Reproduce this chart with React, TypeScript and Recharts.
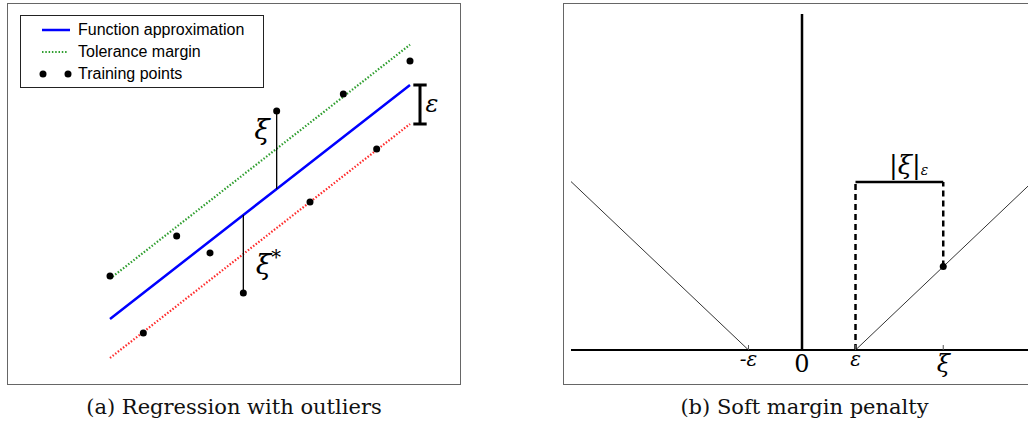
import React from 'react'
import {
  ComposedChart,
  LineChart,
  Line,
  XAxis,
  YAxis,
  ReferenceLine,
  ReferenceDot,
} from 'recharts'

// (a) regression with outliers
const sampleX = [0, 1, 2, 3, 4, 5, 6, 7, 8, 9]
const fitLine = [0, 1, 2, 3, 4, 5, 6, 7, 8, 9]
const upperMargin = [1.55, 2.55, 3.55, 4.55, 5.55, 6.55, 7.55, 8.55, 9.55, 10.55]
const lowerMargin = [-1.5, -0.5, 0.5, 1.5, 2.5, 3.5, 4.5, 5.5, 6.5, 7.5]
const trainingPoints = [1.65, -0.54, 3.19, 2.54, 1.0, 8.0, 4.5, 8.65, 6.54, 9.92]

const legendLabels = ['Function approximation', 'Tolerance margin', 'Training points']

// (b) soft margin penalty
const lossX = [-4.32, -1, 1, 4.6]
const lossY = [3.15, 0, 0, 3.42]
const tickValues = [-1, 0, 1, 2.64]
const tickLabels = ['-ε', '0', 'ε', 'ξ']
const xiValue = 2.64
const xiLoss = 1.56
const bracketTop = 3.14
const axisTop = 6.28

const captions = ['(a) Regression with outliers', '(b) Soft margin penalty']

const regData = sampleX.map((x, i) => ({
  x,
  fit: fitLine[i],
  upper: upperMargin[i],
  lower: lowerMargin[i],
  pt: trainingPoints[i],
}))

const lossData = lossX.map((x, i) => ({ x, loss: lossY[i] }))

const SERIF = '"DejaVu Serif", "Liberation Serif", serif'
const SANS = '"Liberation Sans", Arial, sans-serif'

const mathLabel =
  (text: string, size: number, sup?: string) =>
  (props: any) => {
    const vb = props.viewBox || {}
    const cx = (vb.x ?? 0) + (vb.width ?? 0) / 2
    const cy = (vb.y ?? 0) + (vb.height ?? 0) / 2
    return (
      <text
        x={cx}
        y={cy}
        textAnchor="middle"
        dominantBaseline="central"
        fontFamily={SERIF}
        fontStyle="italic"
        fontSize={size}
        fill="#000"
      >
        {text}
        {sup && (
          <tspan dy={-8} fontSize={size * 0.7} fontStyle="normal">
            {sup}
          </tspan>
        )}
      </text>
    )
  }

const absXiLabel = (props: any) => {
  const vb = props.viewBox || {}
  const cx = vb.x ?? 0
  const cy = vb.y ?? 0
  return (
    <text x={cx - 20} y={cy + 9} fontFamily={SERIF} fontSize={26} fill="#000">
      |<tspan fontStyle="italic">ξ</tspan>|
      <tspan fontSize={14} fontStyle="italic" dy={1}>
        ε
      </tspan>
    </text>
  )
}

const PenaltyTick = (props: any) => {
  const { x, y, payload } = props
  const idx = tickValues.indexOf(payload.value)
  const label = tickLabels[idx] ?? ''
  const size = idx === 1 ? 24 : idx === 3 ? 24 : 20
  const dy = idx === 1 ? 22 : idx === 3 ? 22 : 16
  return (
    <g>
      {idx !== 1 && <line x1={x} x2={x} y1={y - 5} y2={y} stroke="#555" strokeWidth={1} />}
      <text
        x={x}
        y={y + dy}
        textAnchor="middle"
        fontFamily={SERIF}
        fontStyle={idx === 1 ? 'normal' : 'italic'}
        fontSize={size}
        fill="#000"
      >
        {label}
      </text>
    </g>
  )
}

function LegendBox() {
  return (
    <div
      style={{
        position: 'absolute',
        left: 12,
        top: 11,
        width: 244,
        height: 73,
        boxSizing: 'border-box',
        border: '1px solid #222',
        background: '#fff',
        fontFamily: SANS,
        fontSize: 16,
        color: '#000',
      }}
    >
      {legendLabels.map((l, i) => (
        <div
          key={l}
          style={{ position: 'absolute', left: 0, top: 3 + i * 22, height: 22, display: 'flex', alignItems: 'center' }}
        >
          <svg width={56} height={22}>
            {i === 0 && <line x1={21} x2={49} y1={11} y2={11} stroke="#0000ff" strokeWidth={2.5} />}
            {i === 1 && (
              <line x1={21} x2={47} y1={11} y2={11} stroke="#2f9e2f" strokeWidth={2.2} strokeDasharray="1.5 1.8" />
            )}
            {i === 2 && (
              <>
                <circle cx={22} cy={11} r={3.5} fill="#000" />
                <circle cx={47} cy={11} r={3.5} fill="#000" />
              </>
            )}
          </svg>
          <span style={{ marginLeft: 1 }}>{l}</span>
        </div>
      ))}
    </div>
  )
}

export default function App() {
  return (
    <div
      style={{
        position: 'absolute',
        left: 0,
        top: 0,
        width: 1028,
        height: 430,
        overflow: 'hidden',
        background: '#fff',
      }}
    >
      {/* panel (a) */}
      <div
        style={{
          position: 'absolute',
          left: 7,
          top: 3,
          width: 454,
          height: 382,
          boxSizing: 'border-box',
          border: '1px solid #666',
        }}
      >
        <ComposedChart width={452} height={380} data={regData} margin={{ top: 0, right: 0, bottom: 0, left: 0 }}>
          <XAxis type="number" dataKey="x" hide domain={[-3.06, 10.5]} allowDataOverflow />
          <YAxis type="number" hide domain={[-2.5, 12.115]} allowDataOverflow />
          <Line dataKey="upper" stroke="#2f9e2f" strokeWidth={2.2} strokeDasharray="1.5 1.8" dot={false} isAnimationActive={false} />
          <Line dataKey="lower" stroke="#ff2a2a" strokeWidth={2.2} strokeDasharray="1.5 1.8" dot={false} isAnimationActive={false} />
          <Line dataKey="fit" stroke="#0000ff" strokeWidth={2.5} dot={false} isAnimationActive={false} />
          <ReferenceLine
            segment={[{ x: 5, y: fitLine[5] }, { x: 5, y: trainingPoints[5] }]}
            stroke="#000"
            strokeWidth={1.3}
          />
          <ReferenceLine
            segment={[{ x: 4, y: fitLine[4] }, { x: 4, y: trainingPoints[4] }]}
            stroke="#000"
            strokeWidth={1.3}
          />
          <Line
            dataKey="pt"
            stroke="none"
            dot={{ r: 3.5, fill: '#000', stroke: '#000', strokeWidth: 0 }}
            isAnimationActive={false}
          />
          {/* epsilon bracket */}
          <ReferenceLine segment={[{ x: 9.3, y: fitLine[9] }, { x: 9.3, y: lowerMargin[9] }]} stroke="#000" strokeWidth={3} />
          <ReferenceLine segment={[{ x: 9.1, y: fitLine[9] }, { x: 9.5, y: fitLine[9] }]} stroke="#000" strokeWidth={3} />
          <ReferenceLine segment={[{ x: 9.1, y: lowerMargin[9] }, { x: 9.5, y: lowerMargin[9] }]} stroke="#000" strokeWidth={3} />
          <ReferenceDot x={9.66} y={8.27} r={0} stroke="none" label={mathLabel('ε', 24)} />
          <ReferenceDot x={4.56} y={7.27} r={0} stroke="none" label={mathLabel('ξ', 28)} />
          <ReferenceDot x={4.75} y={2.08} r={0} stroke="none" label={mathLabel('ξ', 28, '*')} />
        </ComposedChart>
        <LegendBox />
      </div>

      {/* panel (b) */}
      <div
        style={{
          position: 'absolute',
          left: 563,
          top: 3,
          width: 483,
          height: 382,
          boxSizing: 'border-box',
          border: '1px solid #666',
        }}
      >
        <LineChart width={481} height={380} data={lossData} margin={{ top: 0, right: 0, bottom: 0, left: 7 }}>
          <XAxis
            type="number"
            dataKey="x"
            domain={[-4.318, 4.542]}
            allowDataOverflow
            ticks={tickValues}
            tick={<PenaltyTick />}
            tickLine={false}
            tickSize={0}
            tickMargin={0}
            height={34}
            axisLine={{ stroke: '#000', strokeWidth: 2 }}
            interval={0}
          />
          <YAxis type="number" hide domain={[0, 6.467]} allowDataOverflow />
          <Line dataKey="loss" stroke="#333" strokeWidth={1} dot={false} isAnimationActive={false} />
          <ReferenceLine segment={[{ x: 0, y: 0 }, { x: 0, y: axisTop }]} stroke="#000" strokeWidth={2.5} />
          <ReferenceLine
            segment={[{ x: 1, y: 0 }, { x: 1, y: bracketTop }]}
            stroke="#000"
            strokeWidth={2.5}
            strokeDasharray="6 4"
          />
          <ReferenceLine
            segment={[{ x: xiValue, y: xiLoss }, { x: xiValue, y: bracketTop }]}
            stroke="#000"
            strokeWidth={2.5}
            strokeDasharray="6 4"
          />
          <ReferenceLine segment={[{ x: 1, y: bracketTop }, { x: xiValue, y: bracketTop }]} stroke="#000" strokeWidth={2.5} />
          <ReferenceDot x={xiValue} y={xiLoss} r={3.5} fill="#000" stroke="none" />
          <ReferenceDot x={2.0} y={3.46} r={0} stroke="none" label={absXiLabel} />
        </LineChart>
      </div>

      {captions.map((c, i) => (
        <div
          key={c}
          style={{
            position: 'absolute',
            left: i === 0 ? 7 : 563,
            width: i === 0 ? 454 : 483,
            top: 395,
            textAlign: 'center',
            fontFamily: '"DejaVu Serif", serif',
            fontSize: 21,
            color: '#111',
          }}
        >
          {c}
        </div>
      ))}
    </div>
  )
}
